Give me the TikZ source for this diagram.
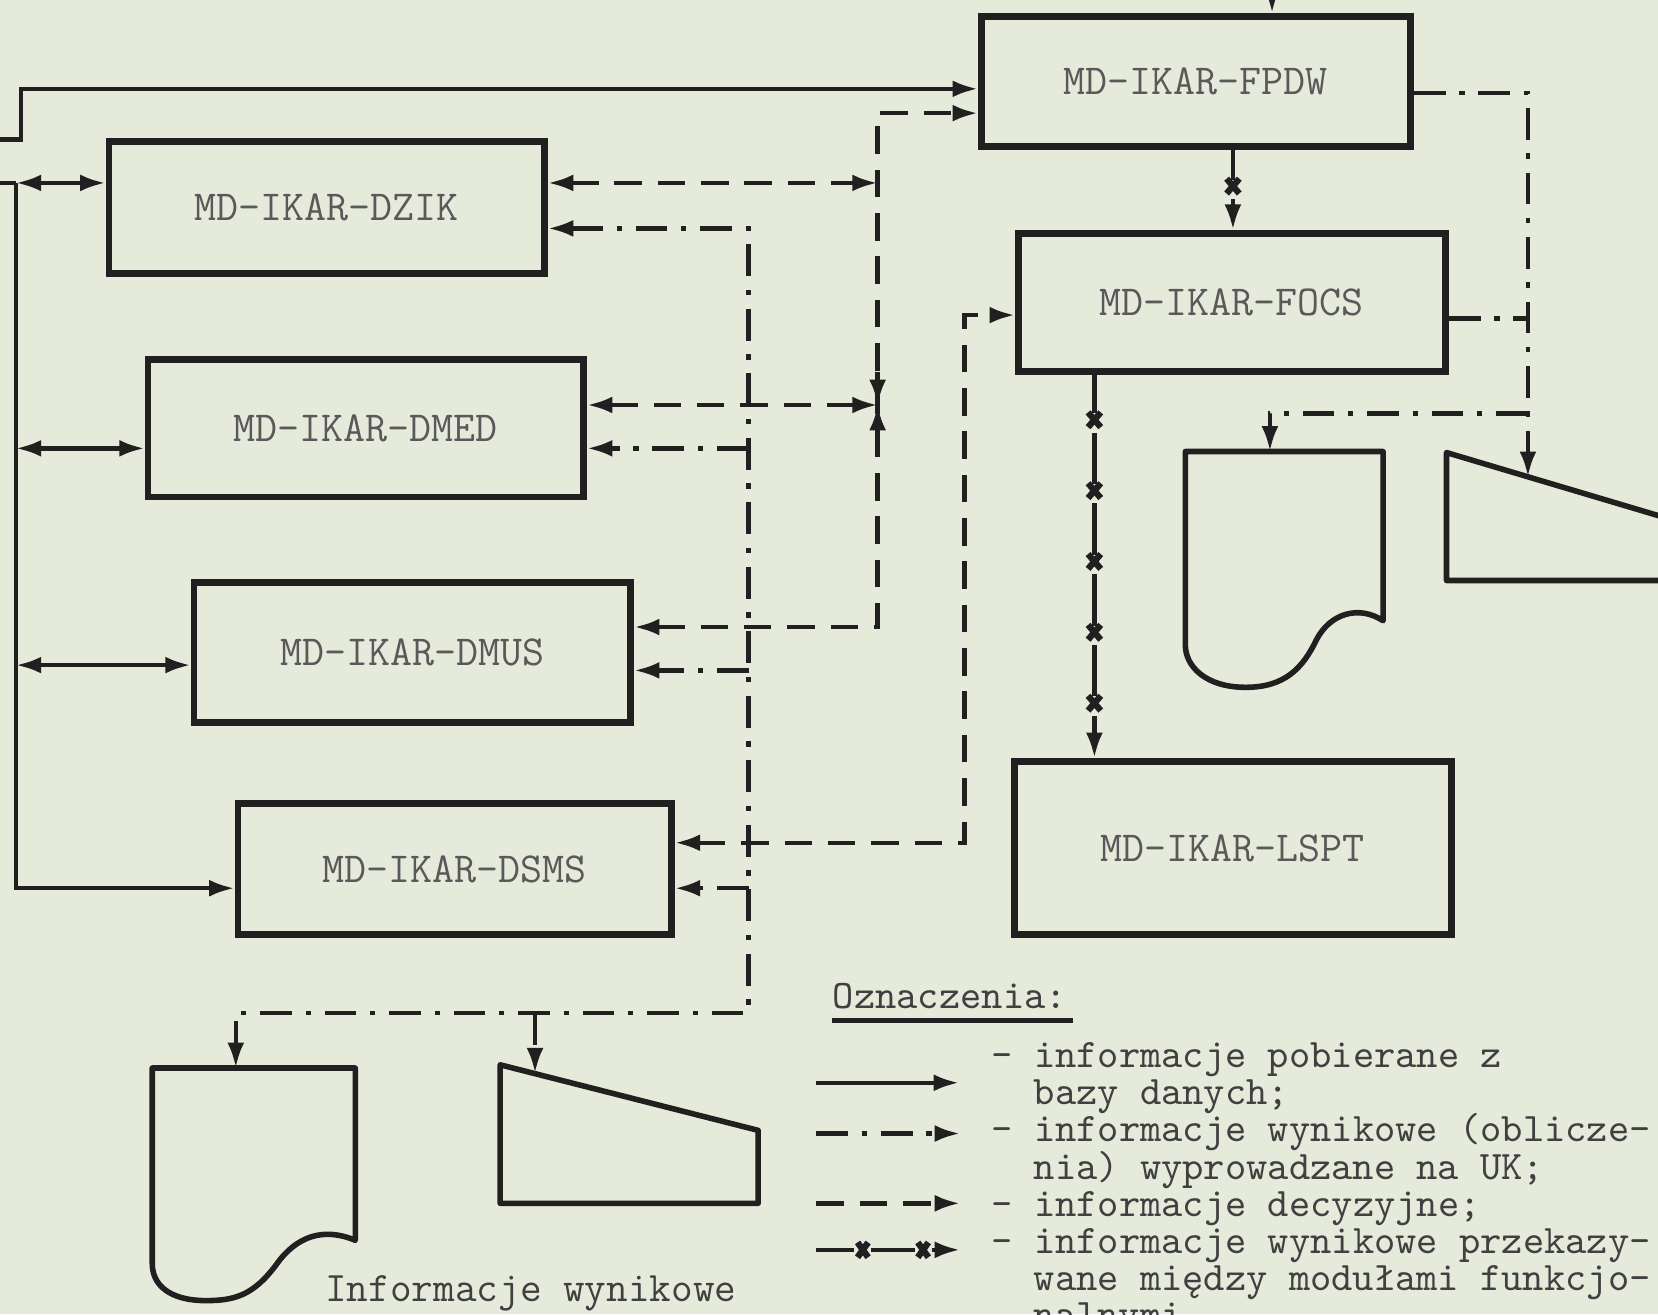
\documentclass[tikz,border=0pt]{standalone}
\usetikzlibrary{arrows.meta}

\definecolor{paper}{RGB}{229,234,219}
\definecolor{ink}{RGB}{32,32,32}

\tikzset{
  modbox/.style={draw=ink, line width=1.8pt, minimum width=41.2mm, minimum height=12.5mm,
    inner sep=0pt, text=black!65, font=\fontsize{11.5}{12}\selectfont\ttfamily},
  media/.style={draw=ink, line width=1.5pt, line join=round},
  dblink/.style={draw=ink, line width=1.2pt},
  declink/.style={draw=ink, line width=1.2pt, dash pattern=on 2.6mm off 1.5mm},
  uklink/.style={draw=ink, line width=1.2pt, dash pattern=on 3mm off 1.3mm on 0.5mm off 1.3mm},
  xlink/.style={draw=ink, line width=1.2pt},
  xmark/.style={draw=ink, line width=1.7pt},
  lgtext/.style={inner sep=0pt, text=black!75, font=\fontsize{10.9}{10}\selectfont\ttfamily},
}

\begin{document}
\begin{tikzpicture}[x=0.1mm, y=-0.1mm, >={Latex[length=2.4mm,width=1.6mm]}]
  \useasboundingbox (0,0) rectangle (1568,1243);
  \fill[paper] (0,0) rectangle (1568,1243);

  % functional modules
  \node[modbox, minimum width=40.6mm, minimum height=12.3mm] (fpdw) at (1131,77) {MD-IKAR-FPDW};
  \node[modbox, minimum width=40.4mm, minimum height=13.1mm] (focs) at (1165,286) {MD-IKAR-FOCS};
  \node[modbox, minimum width=41.3mm, minimum height=16.4mm] (lspt) at (1166,802) {MD-IKAR-LSPT};
  % decision modules
  \node[modbox] (dzik) at (309,196) {MD-IKAR-DZIK};
  \node[modbox, minimum height=13mm] (dmed) at (346,405) {MD-IKAR-DMED};
  \node[modbox, minimum width=41.3mm, minimum height=13.2mm] (dmus) at (390,617) {MD-IKAR-DMUS};
  \node[modbox, minimum width=41mm, minimum height=12.4mm] (dsms) at (430,822) {MD-IKAR-DSMS};

  % output media: printout and screen
  \draw[media] (1121,427) -- (1308,427) -- (1308,587)
    .. controls (1285,572) and (1258,580) .. (1245,605)
    .. controls (1232,632) and (1215,650) .. (1178,650)
    .. controls (1140,650) and (1121,630) .. (1121,610) -- cycle;
  \draw[media] (1368,428) -- (1620,503) -- (1620,549) -- (1368,549) -- cycle;
  \draw[media] (144,1010) -- (336,1010) -- (336,1173)
    .. controls (305,1160) and (280,1170) .. (262,1195)
    .. controls (240,1225) and (222,1230) .. (195,1230)
    .. controls (160,1230) and (144,1215) .. (144,1195) -- cycle;
  \draw[media] (473,1007) -- (717,1069) -- (717,1138) -- (473,1138) -- cycle;
  \coordinate (prtR) at (1201,427);
  \coordinate (trmR) at (1445,451);
  \coordinate (prtL) at (223,1010);
  \coordinate (trmL) at (506,1015);

  % data base lines
  \coordinate (feed) at (1203,-40);
  \draw[dblink,->] (feed) -- (feed |- fpdw.north);
  \coordinate (dbsrc) at (0,132);
  \draw[dblink,->] (dbsrc) -- ++(20,0) |- (fpdw.west |- 0,84);
  \coordinate (dbtap) at (0,173);
  \coordinate (dbbus) at (15,173);
  \draw[dblink] (dbtap) -- (dbbus);
  \draw[dblink,<->] (dbbus) -- (dzik.west |- dbbus);
  \draw[dblink,<->] (dbbus |- 0,424) -- (dmed.west |- 0,424);
  \draw[dblink,<->] (dbbus |- 0,629) -- (dmus.west |- 0,629);
  \draw[dblink,->] (dbbus) |- (dsms.west |- 0,840);

  % decision lines
  \coordinate (decbus) at (830,107);
  \draw[declink,<->] (dzik.east |- 0,173) -- (decbus |- 0,173);
  \draw[declink,<->] (dmed.east |- 0,383) -- (decbus |- 0,383);
  \draw[declink,<->] (dmus.east |- 0,593) -| (decbus) -- (fpdw.west |- decbus);
  \draw[declink,->] (decbus |- 0,352) -- (decbus |- 0,383);
  \draw[declink,->] (decbus |- 0,414) -- (decbus |- 0,383);
  \coordinate (lnk) at (912,797);
  \draw[declink,<->] (dsms.east |- lnk) -| (lnk |- 0,298) -- (focs.west |- 0,298);

  % results put out on UK
  \coordinate (ukbus) at (708,216);
  \coordinate (ukfoot) at (708,958);
  \draw[uklink,<->] (dzik.east |- ukbus) -- (ukbus) -- (ukfoot) -| (prtL);
  \draw[uklink,->] (ukbus |- 0,424) -- (dmed.east |- 0,424);
  \draw[uklink,->] (ukbus |- 0,634) -- (dmus.east |- 0,634);
  \draw[uklink,->] (ukbus |- 0,840) -- (dsms.east |- 0,840);
  \draw[uklink,->] (trmL |- ukfoot) -- (trmL);
  \coordinate (ukR) at (1445,88);
  \draw[uklink,->] (fpdw.east |- ukR) -- (ukR) -- (trmR);
  \draw[uklink] (focs.east |- 0,301) -- (ukR |- 0,301);
  \draw[uklink,->] (ukR |- 0,391) -| (prtR);

  % results passed between functional modules
  \draw[xlink,->,dash pattern=on 2.85mm off 1.8mm on 6mm off 1mm] (fpdw.south -| 1166,0) -- (focs.north -| 1166,0);
  \draw[xmark] (1166,176) +(-6,-7) -- +(6,7) +(-6,7) -- +(6,-7);
  \draw[xlink,->,dash pattern=on 4.85mm off 1.85mm,dash phase=1.25mm] (focs.south -| 1035,0) -- (lspt.north -| 1035,0);
  \draw[xmark] (1035,397) +(-6,-7) -- +(6,7) +(-6,7) -- +(6,-7);
  \draw[xmark] (1035,464) +(-6,-7) -- +(6,7) +(-6,7) -- +(6,-7);
  \draw[xmark] (1035,531) +(-6,-7) -- +(6,7) +(-6,7) -- +(6,-7);
  \draw[xmark] (1035,598) +(-6,-7) -- +(6,7) +(-6,7) -- +(6,-7);
  \draw[xmark] (1035,665) +(-6,-7) -- +(6,7) +(-6,7) -- +(6,-7);

  \node[lgtext, font=\fontsize{11.3}{12}\selectfont\ttfamily, anchor=base west] (ukcap) at (307,1231) {Informacje wynikowe};

  % legend
  \node[lgtext, anchor=base west] (ozn) at (787,954) {Oznaczenia:};
  \draw[ink, line width=1.4pt] ([yshift=-1.1mm]ozn.base west) -- ([yshift=-1.1mm,xshift=0.5mm]ozn.base east);
  \node[lgtext, anchor=base west] (lg1) at (937,1010) {- informacje pobierane z};
  \node[lgtext, anchor=base west] (lg2) at (977,1045) {bazy danych;};
  \node[lgtext, anchor=base west] (lg3) at (937,1080) {- informacje wynikowe (oblicze-};
  \node[lgtext, anchor=base west] (lg4) at (977,1115) {nia) wyprowadzane na UK;};
  \node[lgtext, anchor=base west] (lg5) at (937,1150) {- informacje decyzyjne;};
  \node[lgtext, anchor=base west] (lg6) at (937,1185) {- informacje wynikowe przekazy-};
  \node[lgtext, anchor=base west] (lg7) at (977,1220) {wane między modułami funkcjo-};
  \node[lgtext, anchor=base west] (lg8) at (977,1255) {nalnymi.};
  \coordinate (smp1) at (772,1024);
  \coordinate (smp2) at (772,1072);
  \coordinate (smp3) at (772,1138);
  \coordinate (smp4) at (772,1182);
  \draw[dblink,->] (smp1) -- ++(135,0);
  \draw[uklink,->] (smp2) -- ++(136,0);
  \draw[declink,->] (smp3) -- ++(136,0);
  \draw[xlink,->,dash pattern=on 3.6mm off 1.6mm on 4.1mm off 1.6mm on 5mm off 1mm] (smp4) -- ++(136,0);
  \draw[xmark] (816,1182) +(-5,-7) -- +(5,7) +(-5,7) -- +(5,-7);
  \draw[xmark] (873,1182) +(-5,-7) -- +(5,7) +(-5,7) -- +(5,-7);
\end{tikzpicture}
\end{document}
